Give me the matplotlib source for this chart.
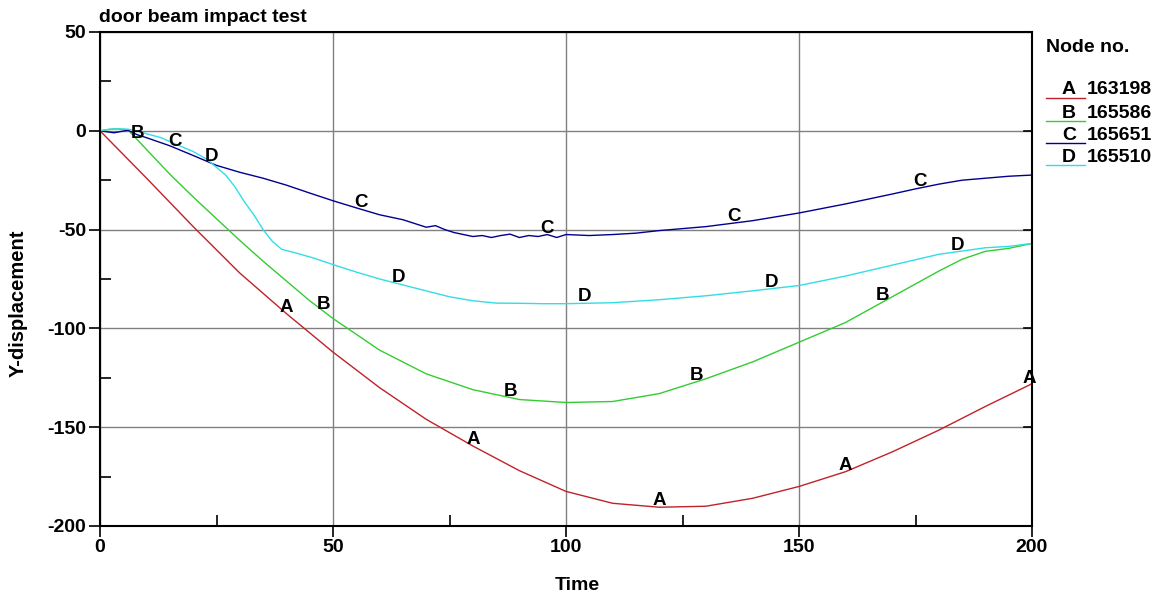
import numpy as np
import matplotlib
matplotlib.use("Agg")
import matplotlib.pyplot as plt
from matplotlib.lines import Line2D

plt.rcParams['font.family'] = ['Liberation Sans', 'DejaVu Sans']
plt.rcParams['axes.unicode_minus'] = False

# ---- data ----
title = "door beam impact test"
xlabel = "Time"
ylabel = "Y-displacement"
legend_title = "Node no."
letters = ["A", "B", "C", "D"]
nodes = ["163198", "165586", "165651", "165510"]

xA = [0, 5, 10, 20, 30, 40, 50, 60, 70, 80, 90, 100, 110, 120, 130, 140, 150, 160, 170, 180, 190, 200]
yA = [0, -12, -24, -48.5, -72, -92.5, -112, -130, -146, -159.5, -172, -182.5, -188.5, -190.5, -190, -186, -180, -172.5, -162.5, -151.5, -139.5, -128]

xB = [0, 3, 6, 10, 15, 20, 25, 30, 35, 40, 45, 50, 60, 70, 80, 90, 100, 110, 120, 130, 140, 150, 160, 170, 180, 185, 190, 195, 200]
yB = [0, 1, 0.5, -9.5, -22, -33.5, -44.5, -55.5, -66, -76, -86, -95, -111, -123, -131, -136, -137.5, -137, -133, -125.5, -117, -107, -97, -84, -71, -65, -61, -59.5, -57]

xC = [0, 3, 6, 8, 10, 15, 20, 25, 30, 35, 40, 45, 50, 55, 60, 65, 70, 72, 74, 76, 78, 80, 82, 84, 86, 88, 90, 92, 94, 96, 98, 100, 105, 110, 115, 120, 130, 140, 150, 160, 170, 175, 180, 185, 190, 195, 200]
yC = [0, -1, 0.3, -2, -3.5, -7.6, -12.5, -17.5, -21, -24, -27.5, -31.5, -35.4, -39, -42.5, -45, -48.8, -48, -50, -51.5, -52.5, -53.5, -53, -54, -53, -52.3, -54, -53, -53.5, -52.5, -54, -52.5, -53, -52.5, -51.8, -50.5, -48.5, -45.5, -41.6, -37, -32, -29.4, -27, -25, -24, -23, -22.4]

xD = [0, 2, 4, 6, 8, 10, 13, 16, 20, 23, 25, 27, 29, 31, 33, 35, 37, 39, 42, 46, 50, 55, 60, 65, 70, 75, 80, 85, 90, 95, 100, 110, 120, 130, 140, 150, 160, 170, 180, 190, 195, 200]
yD = [0, 0.8, 1, 0.8, 0, -1.5, -3.4, -6.5, -10.5, -14.5, -18.5, -22.5, -28.5, -36, -42.5, -50, -56, -60, -61.8, -64.5, -67.7, -71.5, -75, -78, -81, -84, -86, -87.2, -87.3, -87.5, -87.5, -87, -85.5, -83.5, -81, -78.3, -73.5, -68, -62.5, -59.2, -58.5, -57]

label_x = {"A": [40, 80, 120, 160, 199.5],
           "B": [8, 48, 88, 128, 168],
           "C": [16, 56, 96, 136, 176],
           "D": [24, 64, 104, 144, 184]}

colors = ["#C0222A", "#33CC33", "#000090", "#33DDE6"]
series = [(xA, yA), (xB, yB), (xC, yC), (xD, yD)]

fig = plt.figure(figsize=(11.57, 6.02), dpi=100)
ax = fig.add_axes([100/1157, 1-526/602, (1032-100)/1157, (526-32)/602])

for (xs, ys), c, L in zip(series, colors, letters):
    ax.plot(xs, ys, color=c, lw=1.0, zorder=3)
    for lx in label_x[L]:
        ly = np.interp(lx, xs, ys)
        ax.annotate(L, (lx, ly), xytext=(0, -2), textcoords='offset pixels',
                    ha='center', va='bottom', fontsize=13.5, fontweight='bold',
                    color='black', zorder=4)

ax.set_xlim(0, 200)
ax.set_ylim(-200, 50)
ax.set_xticks([0, 50, 100, 150, 200])
ax.set_yticks([50, 0, -50, -100, -150, -200])
ax.set_xticks([25, 75, 125, 175], minor=True)
ax.set_yticks([25, -25, -75, -125, -175], minor=True)
ax.grid(True, which='major', color='#808080', lw=1.0, zorder=1)
ax.tick_params(which='major', direction='out', length=8, width=1.2,
               labelsize=14, pad=2)
ax.tick_params(axis='x', which='major', pad=1)
ax.tick_params(which='minor', direction='in', length=8, width=1.2)
for lab in ax.get_xticklabels() + ax.get_yticklabels():
    lab.set_fontweight('bold')
for s in ax.spines.values():
    s.set_linewidth(1.5)
    s.set_zorder(5)

# right-side inward major ticks
for yv in [50, 0, -50, -100, -150, -200]:
    ax.plot([200 - 8/4.66, 200], [yv, yv], color='black', lw=1.2, clip_on=False, zorder=5)

fig.text(99/1157, 1-17/602, title, ha='left', va='center', fontsize=14, fontweight='bold')
fig.text(577/1157, 1-586/602, xlabel, ha='center', va='center', fontsize=14, fontweight='bold')
fig.text(18/1157, 1-303/602, ylabel, ha='center', va='center', rotation=90, fontsize=14.5, fontweight='bold')

# custom legend
fig.text(1046/1157, 1-47/602, legend_title, ha='left', va='center', fontsize=14, fontweight='bold')
ys_leg = [90, 113, 135, 157]
for L, n, c, yp in zip(letters, nodes, colors, ys_leg):
    fig.text(1069/1157, 1-yp/602, L, ha='center', va='center', fontsize=14, fontweight='bold')
    fig.text(1087/1157, 1-yp/602, n, ha='left', va='center', fontsize=14, fontweight='bold')
    fig.add_artist(Line2D([1046/1157, 1085/1157], [1-(yp+7.5)/602]*2, color=c, lw=1.0,
                          transform=fig.transFigure))

fig.savefig("out.png", dpi=100)
